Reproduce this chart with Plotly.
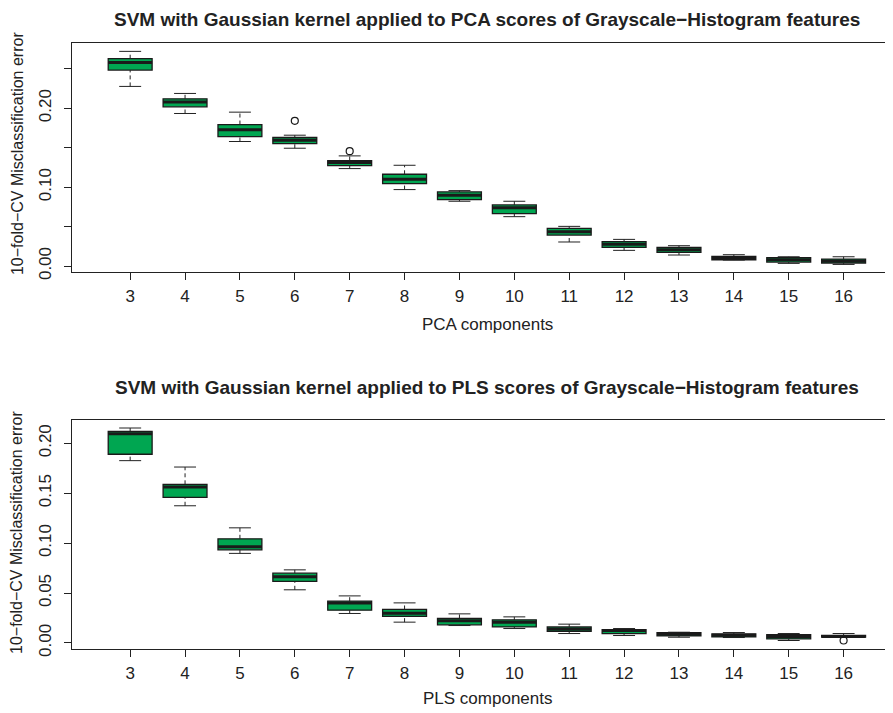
import plotly.graph_objects as go

# ---------------- data ----------------
pca_components = [3, 4, 5, 6, 7, 8, 9, 10, 11, 12, 13, 14, 15, 16]
pca_lower = [0.2276, 0.1933, 0.1578, 0.1493, 0.1235, 0.0969, 0.0821, 0.0626, 0.0305, 0.0199, 0.0140, 0.0076, 0.0034, 0.0021]
pca_q1 = [0.2483, 0.2018, 0.1641, 0.1552, 0.1273, 0.1045, 0.0842, 0.0664, 0.0393, 0.0237, 0.0173, 0.0080, 0.0051, 0.0038]
pca_median = [0.2580, 0.2077, 0.1726, 0.1595, 0.1311, 0.1100, 0.0897, 0.0740, 0.0436, 0.0275, 0.0207, 0.0106, 0.0080, 0.0060]
pca_q3 = [0.2627, 0.2119, 0.1793, 0.1629, 0.1337, 0.1163, 0.0939, 0.0774, 0.0478, 0.0309, 0.0237, 0.0123, 0.0106, 0.0089]
pca_upper = [0.2720, 0.2187, 0.1950, 0.1658, 0.1396, 0.1277, 0.0956, 0.0821, 0.0503, 0.0338, 0.0258, 0.0144, 0.0118, 0.0118]
pca_outlier_x = [6, 7]
pca_outlier_y = [0.1840, 0.1455]

pls_components = [3, 4, 5, 6, 7, 8, 9, 10, 11, 12, 13, 14, 15, 16]
pls_lower = [0.1826, 0.1374, 0.0897, 0.0532, 0.0295, 0.0208, 0.0174, 0.0144, 0.0094, 0.0074, 0.0057, 0.0054, 0.0024, 0.0057]
pls_q1 = [0.1890, 0.1458, 0.0933, 0.0616, 0.0328, 0.0265, 0.0181, 0.0160, 0.0117, 0.0094, 0.0070, 0.0060, 0.0040, 0.0057]
pls_median = [0.2096, 0.1562, 0.0963, 0.0662, 0.0401, 0.0298, 0.0221, 0.0208, 0.0140, 0.0124, 0.0087, 0.0077, 0.0064, 0.0064]
pls_q3 = [0.2120, 0.1589, 0.1043, 0.0699, 0.0418, 0.0335, 0.0245, 0.0231, 0.0160, 0.0134, 0.0104, 0.0090, 0.0084, 0.0074]
pls_upper = [0.2153, 0.1762, 0.1153, 0.0732, 0.0471, 0.0401, 0.0291, 0.0261, 0.0188, 0.0144, 0.0107, 0.0104, 0.0094, 0.0094]
pls_outlier_x = [16]
pls_outlier_y = [0.0024]

pca_yticks = [0.00, 0.05, 0.10, 0.15, 0.20, 0.25]
pca_yticklabels = ["0.00", "", "0.10", "", "0.20", ""]
pls_yticks = [0.00, 0.05, 0.10, 0.15, 0.20]
pls_yticklabels = ["0.00", "0.05", "0.10", "0.15", "0.20"]

title_pca = "SVM with Gaussian kernel applied to PCA scores of Grayscale\u2212Histogram features"
title_pls = "SVM with Gaussian kernel applied to PLS scores of Grayscale\u2212Histogram features"
ylab = "10\u2212fold\u2212CV Misclassification error"
xlab_pca = "PCA components"
xlab_pls = "PLS components"

# ---------------- style ----------------
GREEN = "#00A651"
FONT = "Liberation Sans, Arial, sans-serif"
BOX_HALF = 0.4
STAPLE_HALF = 0.2

fig = go.Figure()


def add_panel(comps, lo, q1, med, q3, hi, ox, oy, xa, ya):
    # dashed whiskers
    wx, wy = [], []
    for c, a, b, d, e in zip(comps, lo, q1, q3, hi):
        wx += [c, c, None, c, c, None]
        wy += [a, b, None, d, e, None]
    fig.add_trace(go.Scatter(x=wx, y=wy, mode="lines", xaxis=xa, yaxis=ya,
                             line=dict(color="#222222", width=1, dash="4px,3px"),
                             hoverinfo="skip", showlegend=False))
    # staples
    sx, sy = [], []
    for c, a, e in zip(comps, lo, hi):
        sx += [c - STAPLE_HALF, c + STAPLE_HALF, None, c - STAPLE_HALF, c + STAPLE_HALF, None]
        sy += [a, a, None, e, e, None]
    fig.add_trace(go.Scatter(x=sx, y=sy, mode="lines", xaxis=xa, yaxis=ya,
                             line=dict(color="#222222", width=1),
                             hoverinfo="skip", showlegend=False))
    # boxes
    fig.add_trace(go.Box(x=comps, q1=q1, median=med, q3=q3, lowerfence=q1, upperfence=q3,
                         width=2 * BOX_HALF, fillcolor=GREEN, boxpoints=False,
                         line=dict(color="#1a1a1a", width=1.3), xaxis=xa, yaxis=ya,
                         hoverinfo="skip", showlegend=False))
    # thick medians
    mx, my = [], []
    for c, m in zip(comps, med):
        mx += [c - BOX_HALF, c + BOX_HALF, None]
        my += [m, m, None]
    fig.add_trace(go.Scatter(x=mx, y=my, mode="lines", xaxis=xa, yaxis=ya,
                             line=dict(color="#1a1a1a", width=3),
                             hoverinfo="skip", showlegend=False))
    # outliers
    fig.add_trace(go.Scatter(x=ox, y=oy, mode="markers", xaxis=xa, yaxis=ya,
                             marker=dict(symbol="circle-open", size=7, color="#1a1a1a",
                                         line=dict(width=1.2)),
                             hoverinfo="skip", showlegend=False))


add_panel(pca_components, pca_lower, pca_q1, pca_median, pca_q3, pca_upper,
          pca_outlier_x, pca_outlier_y, "x", "y")
add_panel(pls_components, pls_lower, pls_q1, pls_median, pls_q3, pls_upper,
          pls_outlier_x, pls_outlier_y, "x2", "y2")

axis_common = dict(showgrid=False, zeroline=False, showline=True, linecolor="#222222",
                   linewidth=1, ticks="outside", ticklen=7, tickcolor="#222222",
                   tickwidth=1, tickfont=dict(family=FONT, size=17, color="#222222"))

XRANGE = [1.94, 16.9]

# the page body adds an 8px offset; the figure is sized to fill the rest of the window
fig.update_layout(
    width=885, height=705,
    margin=dict(l=64, r=0, t=35, b=64),
    paper_bgcolor="white", plot_bgcolor="white",
    showlegend=False,
    xaxis=dict(domain=[0, 1], range=XRANGE, anchor="y", tickvals=pca_components,
               ticktext=[str(c) for c in pca_components], mirror=True,
               ticklabelstandoff=2, **axis_common),
    yaxis=dict(domain=[0.622, 1.0], range=[-0.0076, 0.2826], anchor="x",
               tickvals=pca_yticks, ticktext=pca_yticklabels, tickangle=-90,
               ticklabelstandoff=6, **axis_common),
    xaxis2=dict(domain=[0, 1], range=XRANGE, anchor="y2", tickvals=pls_components,
                ticktext=[str(c) for c in pls_components], mirror=True,
                ticklabelstandoff=2, **axis_common),
    yaxis2=dict(domain=[0.0, 0.378], range=[-0.0061, 0.2234], anchor="x2",
                tickvals=pls_yticks, ticktext=pls_yticklabels, tickangle=-90,
                ticklabelstandoff=6, **axis_common),
)

ann_font = dict(family=FONT, size=17, color="#222222")
ylab_font = dict(family=FONT, size=16, color="#222222")
title_font = dict(family=FONT, size=19, color="#222222")
anns = [
    dict(text="<b>" + title_pca + "</b>", x=0.5055, y=1.0396, font=title_font),
    dict(text="<b>" + title_pls + "</b>", x=0.5055, y=0.4307, font=title_font),
    dict(text=xlab_pca, x=0.5055, y=0.5347, font=ann_font),
    dict(text=xlab_pls, x=0.5055, y=-0.0809, font=ann_font),
    dict(text=ylab, x=-0.067, y=0.8184, font=ylab_font, textangle=-90),
    dict(text=ylab, x=-0.067, y=0.1931, font=ylab_font, textangle=-90),
]
for a in anns:
    fig.add_annotation(xref="paper", yref="paper", showarrow=False,
                       xanchor="center", yanchor="middle", **a)

fig.write_html("out.html")
